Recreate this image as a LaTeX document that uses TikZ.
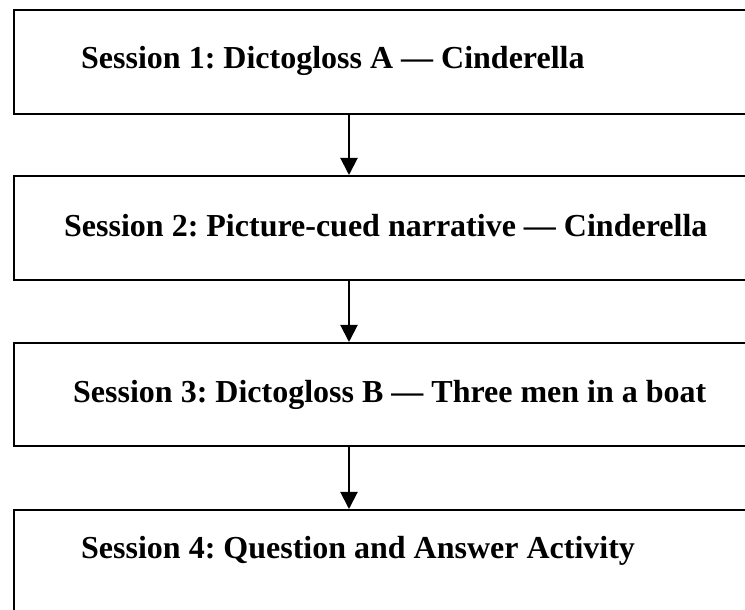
\documentclass[tikz,border=0pt]{standalone}
\usepackage{fontspec}
\setmainfont{Liberation Serif}
\usetikzlibrary{arrows.meta}
\frenchspacing
\begin{document}
\begin{tikzpicture}[x=1pt,y=1pt,
  boxstyle/.style={draw=black, line width=2pt, rectangle, inner sep=0pt, minimum width=740pt},
  label/.style={anchor=base west, inner sep=0pt, font=\fontsize{32}{38}\selectfont\bfseries},
  arr/.style={line width=2pt, -{Triangle[width=17pt,length=17pt]}}]
\useasboundingbox (0,0) rectangle (745,610);
\node[boxstyle, minimum height=103.5pt, anchor=north west] (b1) at (13,600.5) {};
\node[boxstyle, minimum height=104pt, anchor=north west] (b2) at (13,435) {};
\node[boxstyle, minimum height=103pt, anchor=north west] (b3) at (13,268) {};
\node[boxstyle, minimum height=110pt, anchor=north west] (b4) at (13,101) {};
\node[label] (t1) at (81,541) {Session 1: Dictogloss A — Cinderella};
\node[label] (t2) at (64,373) {Session 2: Picture-cued narrative — Cinderella};
\node[label] (t3) at (73,207) {Session 3: Dictogloss B — Three men in a boat};
\node[label] (t4) at (81,51) {Session 4: Question and Answer Activity};
\coordinate (ax) at (349,0);
\draw[arr] (b1.south -| ax) -- (b2.north -| ax);
\draw[arr] (b2.south -| ax) -- (b3.north -| ax);
\draw[arr] (b3.south -| ax) -- (b4.north -| ax);
\end{tikzpicture}
\end{document}
